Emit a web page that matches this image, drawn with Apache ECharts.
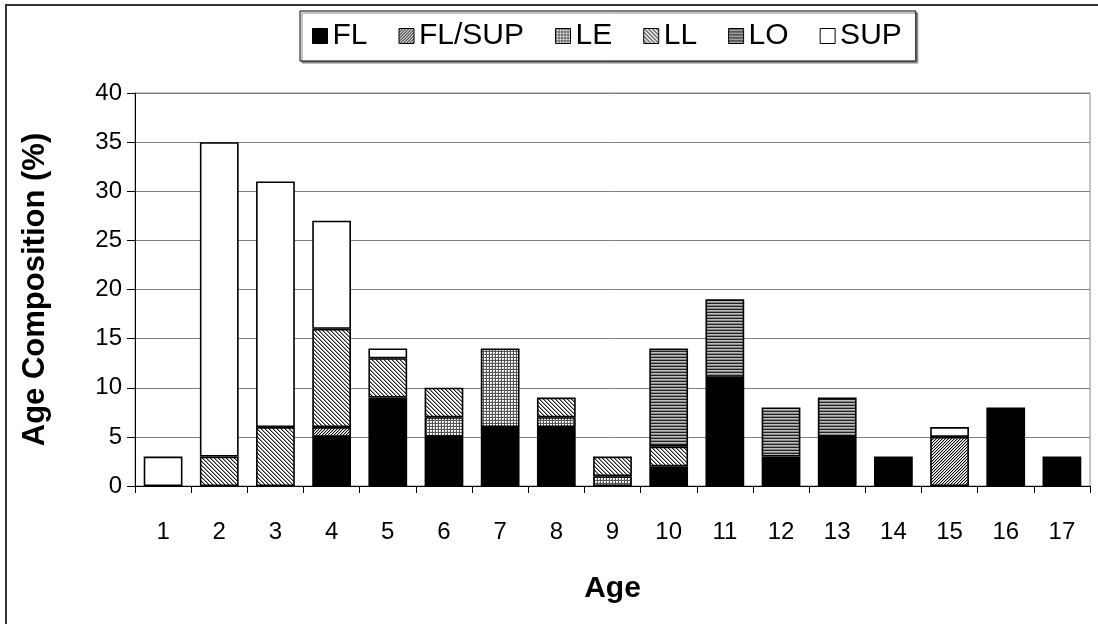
<!DOCTYPE html>
<html>
<head>
<meta charset="utf-8">
<script src="https://cdn.jsdelivr.net/npm/echarts@6/dist/echarts.min.js"></script>
<style>
html,body{margin:0;padding:0;background:#fff;}
#chart{width:1098px;height:624px;}
</style>
</head>
<body>
<div id="chart"></div>
<script>
const ages = ['1','2','3','4','5','6','7','8','9','10','11','12','13','14','15','16','17'];
const seriesNames = ['FL','FL/SUP','LE','LL','LO','SUP'];
const FL     = [null,null,null,5,9,5,6,6,null,2,11,3,5,3,null,8,3];
const FL_SUP = [null,null,null,1,null,null,null,null,null,null,null,null,null,null,5,null,null];
const LE     = [null,null,null,null,null,2,8,1,1,null,null,null,null,null,null,null,null];
const LL     = [null,3,6,10,4,3,null,2,2,2,null,null,null,null,null,null,null];
const LO     = [null,null,null,null,null,null,null,null,null,10,8,5,4,null,null,null,null];
const SUP    = [3,32,25,11,1,null,null,null,null,null,null,null,null,null,1,null,null];
const yTicks = [0,5,10,15,20,25,30,35,40];

function makePattern(kind){
  const c = document.createElement('canvas');
  const s = {flsup: 3, ll: 4, le: 3, lo: 3}[kind];
  c.width = s; c.height = s;
  const g = c.getContext('2d');
  g.fillStyle = '#fff'; g.fillRect(0,0,s,s);
  for (let y=0;y<s;y++){
    for (let x=0;x<s;x++){
      let col = null;
      if (kind === 'flsup') {
        if ((x + y) % s === 0) col = '#000';
        else if ((x + y) % s === 1) col = '#bbb';
      } else if (kind === 'll') {
        const m = ((x - y) % s + s) % s;
        if (m === 0) col = '#222';
        else if (m === 1) col = '#999';
      } else if (kind === 'le') {
        if (y === 0 || x === 0) col = '#555';
        else if (x === 2 && y === 2) col = '#ccc';
      } else if (kind === 'lo') {
        col = y === 0 ? '#222' : (y === 1 ? '#bbb' : '#888');
      }
      if (col) { g.fillStyle = col; g.fillRect(x,y,1,1); }
    }
  }
  return {image: c, repeat: 'repeat'};
}

const fills = {
  'FL': '#000',
  'FL/SUP': makePattern('flsup'),
  'LE': makePattern('le'),
  'LL': makePattern('ll'),
  'LO': makePattern('lo'),
  'SUP': '#fff'
};
const dataMap = {'FL':FL,'FL/SUP':FL_SUP,'LE':LE,'LL':LL,'LO':LO,'SUP':SUP};

const chart = echarts.init(document.getElementById('chart'), null, {renderer:'canvas'});
const series = seriesNames.map(n => ({
  name: n,
  type: 'bar',
  stack: 'total',
  barWidth: '69%',
  data: dataMap[n],
  itemStyle: {color: fills[n], borderColor: '#000', borderWidth: 1.6},
  emphasis: {disabled: true}
}));

chart.setOption({
  animation: false,
  backgroundColor: '#fff',
  textStyle: {fontFamily: 'Liberation Sans, Arial, sans-serif'},
  graphic: [{
    type: 'rect', shape: {x: 6, y: 5, width: 1100, height: 630},
    style: {fill: 'none', stroke: '#333', lineWidth: 2}, silent: true, z: -1
  }],
  legend: {
    data: seriesNames,
    left: 300, top: 11,
    padding: [10, 14, 10, 12],
    itemGap: 31,
    itemWidth: 15, itemHeight: 15,
    icon: 'rect',
    borderColor: '#000', borderWidth: 1,
    shadowColor: '#888', shadowOffsetX: 2, shadowOffsetY: 2, shadowBlur: 0,
    backgroundColor: '#fff',
    textStyle: {fontSize: 30, color: '#000'},
    itemStyle: {borderColor: '#000', borderWidth: 1}
  },
  grid: {left: 135, right: 8, top: 93, bottom: 138, show: true, borderColor: '#888', borderWidth: 1},
  xAxis: {
    type: 'category',
    data: ages,
    name: 'Age',
    nameLocation: 'middle',
    nameGap: 88,
    nameTextStyle: {fontSize: 30, fontWeight: 'bold', color: '#000'},
    axisLine: {lineStyle: {color: '#000', width: 1}},
    axisTick: {show: true, alignWithLabel: false, length: 7, lineStyle: {color: '#000'}},
    axisLabel: {fontSize: 24, color: '#000', margin: 34}
  },
  yAxis: {
    type: 'value',
    min: 0, max: 40, interval: 5,
    name: 'Age Composition (%)',
    nameLocation: 'middle',
    nameGap: 84,
    nameTextStyle: {fontSize: 31, fontWeight: 'bold', color: '#000'},
    axisLine: {show: true, lineStyle: {color: '#000', width: 1}},
    axisTick: {show: true, length: 8, lineStyle: {color: '#000'}},
    axisLabel: {fontSize: 24, color: '#000', margin: 13, formatter: v => yTicks.includes(v) ? String(v) : ''},
    splitLine: {show: true, lineStyle: {color: '#808080', width: 1}}
  },
  series: series
});
</script>
</body>
</html>
